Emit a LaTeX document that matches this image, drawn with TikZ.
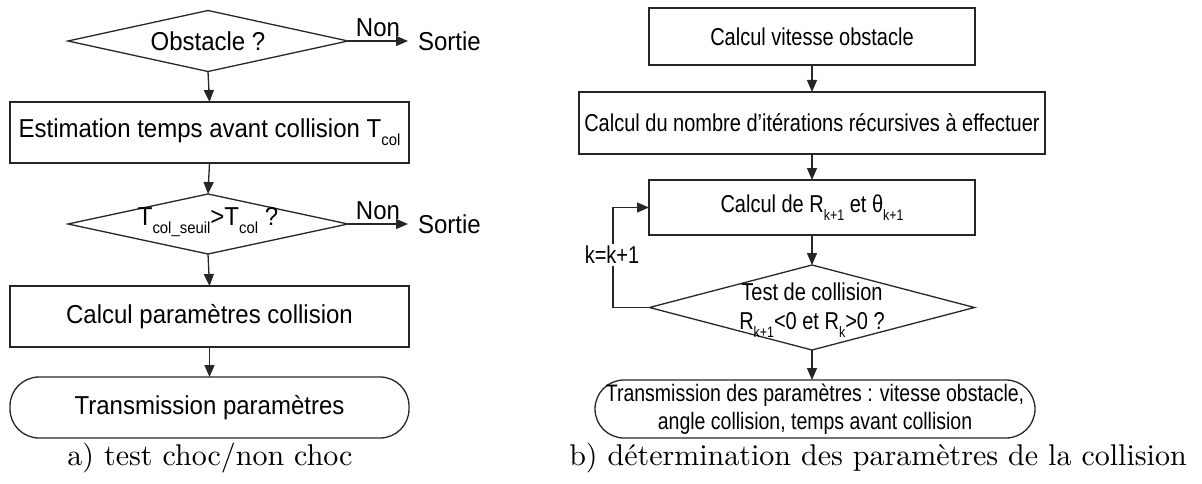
\documentclass[tikz,border=0pt]{standalone}
\usepackage{fontspec}
\newfontfamily\arialf{Liberation Sans}
\newfontfamily\capfont{lmroman10-regular.otf}
\usetikzlibrary{shapes.geometric,arrows.meta}
\newcommand{\sbs}[1]{\raisebox{-0.32em}{\scalebox{0.62}{#1}}}
\newcommand{\lv}[1]{\scalebox{1}[1.08]{#1}}
\newcommand{\rv}[1]{\scalebox{1}[1.22]{#1}}
\begin{document}
\begin{tikzpicture}[x=1pt,y=-1pt,
  every node/.style={inner sep=0pt,outer sep=0pt},
  lf/.style={font=\arialf\fontsize{24}{28}\selectfont},
  rf/.style={font=\arialf\fontsize{20}{29}\selectfont},
  procbox/.style={draw=black!85,line width=1.3pt,rectangle},
  decbox/.style={draw=black!85,line width=1.3pt,diamond},
  termbox/.style={draw=black!85,line width=1.3pt,rectangle,rounded corners=29pt},
  arr/.style={-{Triangle[length=12pt,width=10pt]},line width=1.3pt,draw=black!85},
  captxt/.style={font=\capfont\fontsize{30}{36}\selectfont}]
\useasboundingbox (0,0) rectangle (1202,484);
% ---------- left ----------
\node[decbox,minimum width=280pt,minimum height=61pt] (d1) at (208,41) {};
\node[lf] (d1t) at (d1) {\lv{Obstacle ?}};
\coordinate (s1) at (408,41);
\node[lf,anchor=west] (s1t) at (418,41) {\lv{Sortie}};
\draw[arr] (d1.east) -- node[lf,above=4pt] (n1) {\lv{Non}} (s1);

\node[procbox,minimum width=399pt,minimum height=61pt] (b1) at (209.5,132.5) {};
\node[lf] (b1t) at (b1) {\lv{Estimation temps avant collision T\sbs{col}}};

\node[decbox,minimum width=280pt,minimum height=60pt] (d2) at (208,224) {};
\node[lf] (d2t) at (208,222) {\lv{T\sbs{col\_seuil}>T\sbs{col} ?}};
\coordinate (s2) at (408,224);
\node[lf,anchor=west] (s2t) at (418,224) {\lv{Sortie}};
\draw[arr] (d2.east) -- node[lf,above=4pt] (n2) {\lv{Non}} (s2);

\node[procbox,minimum width=399pt,minimum height=61pt] (b2) at (209.5,316.5) {};
\node[lf] (b2t) at (b2) {\lv{Calcul paramètres collision}};

\node[termbox,minimum width=399pt,minimum height=61pt] (t1) at (209.5,407.5) {};
\node[lf] (t1t) at (t1) {\lv{Transmission paramètres}};

\draw[arr] (d1.south) -- (b1.north);
\draw[arr] (b1.south) -- (d2.north);
\draw[arr] (d2.south) -- (b2.north);
\draw[arr] (b2.south) -- (t1.north);

\node[captxt] (ca) at (210,458) {a) test choc/non choc};

% ---------- right ----------
\node[procbox,minimum width=326pt,minimum height=57pt] (r1) at (812,36.5) {};
\node[rf] (r1t) at (r1) {\rv{Calcul vitesse obstacle}};

\node[procbox,minimum width=466pt,minimum height=62pt] (r2) at (812,123) {};
\node[rf] (r2t) at (r2) {\rv{Calcul du nombre d’itérations récursives à effectuer}};

\node[procbox,minimum width=326pt,minimum height=55pt] (r3) at (812,207.5) {};
\node[rf] (r3t) at (r3) {\rv{Calcul de R\sbs{k+1} et θ\sbs{k+1}}};

\node[decbox,minimum width=325pt,minimum height=85pt] (d3) at (812,307.5) {};
\node[rf,align=center] (d3t) at (812,310) {\rv{Test de collision}\\\rv{R\sbs{k+1}<0 et R\sbs{k}>0 ?}};

\node[termbox,minimum width=440pt,minimum height=58pt] (t2) at (815,409) {};
\node[rf,font=\arialf\fontsize{19.5}{28}\selectfont,align=center] (t2t) at (t2) {\rv{Transmission des paramètres : vitesse obstacle,}\\\rv{angle collision, temps avant collision}};

\draw[arr] (r1.south) -- (r2.north);
\draw[arr] (r2.south) -- (r3.north);
\draw[arr] (r3.south) -- (d3.north);
\draw[arr] (d3.south) -- (d3.south |- t2.north);

\coordinate (lp1) at (613,307.5);
\coordinate (lp2) at (613,207.5);
\draw[arr] (d3.west) -- (lp1) -- (lp2) -- (r3.west);
\node[rf,fill=white,inner sep=2pt] (kk) at (612,255) {\rv{k=k+1}};

\node[captxt] (cb) at (878,458) {b) détermination des paramètres de la collision};
\end{tikzpicture}
\end{document}
